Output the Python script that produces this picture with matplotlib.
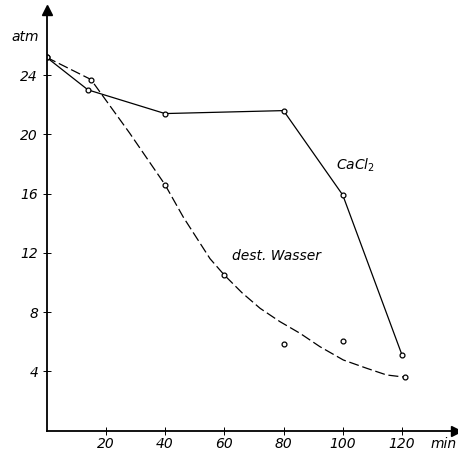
import matplotlib
matplotlib.use("Agg")
import matplotlib.pyplot as plt

# CaCl2 series (solid line)
cacl_min = [0, 14, 40, 80, 100, 120]
cacl_atm = [25.2, 23.0, 21.4, 21.6, 15.9, 5.1]

# dest. Wasser measured points
wasser_min = [0, 15, 40, 60, 80, 100, 121]
wasser_atm = [25.2, 23.7, 16.6, 10.5, 5.85, 6.05, 3.6]

# hand drawn smoothing curve through the Wasser points
curve_min = [0, 15, 28, 40, 46.2, 55.2, 60, 66, 72.1, 78.8, 85.6, 92.3, 100.2, 108.1, 114.8, 121]
curve_atm = [25.2, 23.7, 20.1, 16.6, 14.4, 11.6, 10.5, 9.3, 8.25, 7.35, 6.56, 5.66, 4.76, 4.2, 3.75, 3.6]

yticks = [4, 8, 12, 16, 20, 24]
xticks = [20, 40, 60, 80, 100, 120]

W, H = 458, 453
fig = plt.figure(figsize=(W / 100, H / 100), dpi=100)
ax = fig.add_axes([46.5 / W, (H - 430.5) / H, (456 - 46.5) / W, (430.5 - 10) / H])
ax.set_xlim(0, (456 - 46.5) / 2.9625)
ax.set_ylim(0, 420.5 / 14.81)

ax.spines["top"].set_visible(False)
ax.spines["right"].set_visible(False)
for s in ("left", "bottom"):
    ax.spines[s].set_linewidth(1.3)

# arrow heads on the axes
ax.plot(1, 0, ">", color="black", markersize=7, transform=ax.transAxes, clip_on=False)
ax.plot(0, 1, "^", color="black", markersize=7, transform=ax.transAxes, clip_on=False)

ax.plot(cacl_min, cacl_atm, "-", color="black", lw=0.9, marker="o", ms=3.5,
        mfc="white", mec="black", mew=0.9)
ax.plot(curve_min, curve_atm, color="black", lw=0.9, dashes=(8, 3))
ax.plot(wasser_min, wasser_atm, "o", ms=3.5, mfc="white", mec="black", mew=0.9)

font = dict(family="DejaVu Sans", style="italic", size=10)
ax.set_xticks(xticks)
ax.set_yticks(yticks)
ax.set_xticklabels([str(v) for v in xticks], **font)
ax.set_yticklabels([str(v) for v in yticks], **font)
ax.tick_params(direction="inout", length=6, width=0.7, pad=3)
ax.tick_params(axis="x", pad=2)

fig.text(25 / W, 1 - 37 / H, "atm", ha="center", va="center", **font)
fig.text(444 / W, 1 - 444 / H, "min", ha="center", va="center", **font)
ax.text(356 / W, 1 - 165 / H, "CaCl$_2$", ha="center", va="center",
        transform=fig.transFigure, **font)
ax.text(277 / W, 1 - 256 / H, "dest. Wasser", ha="center", va="center",
        transform=fig.transFigure, **font)

fig.savefig("out.png", dpi=100)
